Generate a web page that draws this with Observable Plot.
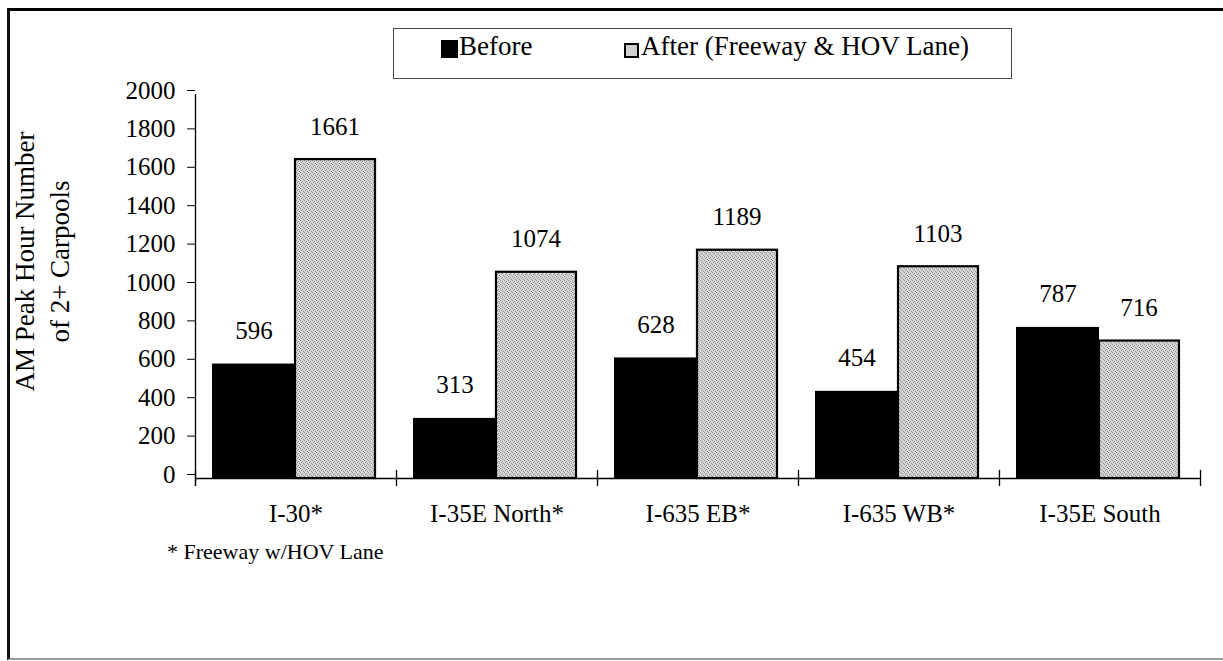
<!DOCTYPE html>
<html>
<head>
<meta charset="utf-8">
<script src="https://cdn.jsdelivr.net/npm/d3@7"></script>
<script src="https://cdn.jsdelivr.net/npm/@observablehq/plot@0.6"></script>
<style>
  html, body { margin: 0; padding: 0; background: #fff; }
  #wrap { position: relative; width: 1223px; height: 661px; overflow: hidden;
          font-family: "Liberation Serif", "Times New Roman", serif; color: #000; }
  #chart { position: absolute; left: 0; top: 0; }
  #frame { position: absolute; left: 7px; top: 8px; width: 1240px; height: 652px; box-sizing: border-box;
           border-top: 3px solid #000; border-left: 3px solid #111; border-bottom: 2px solid #999;
           pointer-events: none; }
  #legend { position: absolute; left: 393px; top: 28px; width: 619px; height: 51px; box-sizing: border-box;
            border: 1px solid #444; background: #fff; }
  .lg-item { position: absolute; font-size: 27px; line-height: 27px; white-space: nowrap; }
  .lg-swatch { position: absolute; box-sizing: border-box; }
  #footnote { position: absolute; left: 167px; top: 541px; font-size: 22px; line-height: 22px; white-space: nowrap; }
</style>
</head>
<body>
<div id="wrap">
  <div id="chart"></div>
  <div id="legend"></div>
  <div id="footnote"></div>
  <div id="frame"></div>
</div>
<script>
// ---- data ----
const categories = ["I-30*", "I-35E North*", "I-635 EB*", "I-635 WB*", "I-35E South"];
const seriesNames = ["Before", "After (Freeway & HOV Lane)"];
const beforeValues = [596, 313, 628, 454, 787];
const afterValues = [1661, 1074, 1189, 1103, 716];
const yTicks = [0, 200, 400, 600, 800, 1000, 1200, 1400, 1600, 1800, 2000];
const yTitleLines = ["AM Peak Hour Number", "of 2+ Carpools"];
const footnoteText = "* Freeway w/HOV Lane";

const beforeRows = categories.map((c, i) => ({cat: c, series: seriesNames[0], value: beforeValues[i]}));
const afterRows = categories.map((c, i) => ({cat: c, series: seriesNames[1], value: afterValues[i]}));

const SERIF = "Liberation Serif";
const W = 1223, H = 661;
const mL = 195, mR = 23, mT = 94, mB = 183;
const bw = (W - mL - mR) / categories.length; // band width

const plot = Plot.plot({
  width: W, height: H,
  marginLeft: mL, marginRight: mR, marginTop: mT, marginBottom: mB,
  style: {fontFamily: SERIF, fontSize: "24px", color: "#000", background: "transparent", overflow: "visible"},
  x: {domain: categories, padding: 0, label: null},
  y: {domain: [0, 2000], label: null},
  marks: [
    Plot.barY(beforeRows, {x: "cat", y: "value", fill: "#000", insetLeft: 17, insetRight: bw - 100}),
    Plot.barY(afterRows, {x: "cat", y: "value", fill: "url(#stipple)", stroke: "#000", strokeWidth: 2.2, insetLeft: 100, insetRight: bw - 180}),
    Plot.ruleY([0], {stroke: "#000", strokeWidth: 1.3}),
    Plot.ruleX([categories[0]], {y1: -42, y2: 2000, dx: -bw / 2, stroke: "#000", strokeWidth: 1.3}),
    Plot.ruleX(categories, {y1: -42, y2: 42, dx: -bw / 2, stroke: "#000", strokeWidth: 1.3}),
    Plot.ruleX([categories[categories.length - 1]], {y1: -42, y2: 42, dx: bw / 2, stroke: "#000", strokeWidth: 1.3}),
    Plot.axisY({ticks: yTicks, tickFormat: "d", tickSize: 8, tickPadding: 12, fontSize: 25, fontFamily: SERIF, dy: -4, label: null}),
    Plot.axisX({tickSize: 0, tickPadding: 26, fontSize: 25, fontFamily: SERIF, label: null}),
    Plot.text(beforeRows, {x: "cat", y: "value", text: d => String(d.value), dx: -42, dy: -33, fontSize: 25, fontFamily: SERIF}),
    Plot.text(afterRows, {x: "cat", y: "value", text: d => String(d.value), dx: 39, dy: -33, fontSize: 25, fontFamily: SERIF}),
    Plot.text([yTitleLines[0]], {text: d => d, frameAnchor: "top-left", textAnchor: "middle", lineAnchor: "middle", rotate: -90, dx: 25 - mL, dy: 261 - mT, fontSize: 27, fontFamily: SERIF}),
    Plot.text([yTitleLines[1]], {text: d => d, frameAnchor: "top-left", textAnchor: "middle", lineAnchor: "middle", rotate: -90, dx: 60 - mL, dy: 261 - mT, fontSize: 27, fontFamily: SERIF})
  ]
});

// stipple texture for the "After" bars
const svg = d3.select(plot);
const defs = svg.insert("defs", ":first-child");
const pat = defs.append("pattern").attr("id", "stipple").attr("patternUnits", "userSpaceOnUse")
  .attr("width", 4).attr("height", 4);
pat.append("rect").attr("width", 4).attr("height", 4).attr("fill", "#d6d6d6");
[[0,0],[2,1],[1,2],[3,3]].forEach(([px, py]) =>
  pat.append("rect").attr("x", px).attr("y", py).attr("width", 1).attr("height", 1).attr("fill", "#959595"));

document.getElementById("chart").appendChild(plot);

// legend (built from the series names)
const wrap = document.getElementById("wrap");
const legendItems = [
  {name: seriesNames[0], swatch: {left: 441, top: 40, w: 17, h: 18, bg: "#000", border: "none"}, textLeft: 459},
  {name: seriesNames[1], swatch: {left: 624, top: 43, w: 15, h: 15, bg: "#d0d0d0", border: "2px solid #000"}, textLeft: 641}
];
legendItems.forEach(it => {
  const s = document.createElement("div");
  s.className = "lg-swatch";
  Object.assign(s.style, {left: it.swatch.left + "px", top: it.swatch.top + "px", width: it.swatch.w + "px",
    height: it.swatch.h + "px", background: it.swatch.bg, border: it.swatch.border});
  wrap.appendChild(s);
  const t = document.createElement("div");
  t.className = "lg-item";
  t.textContent = it.name;
  Object.assign(t.style, {left: it.textLeft + "px", top: "33px"});
  wrap.appendChild(t);
});
document.getElementById("footnote").textContent = footnoteText;
</script>
</body>
</html>
